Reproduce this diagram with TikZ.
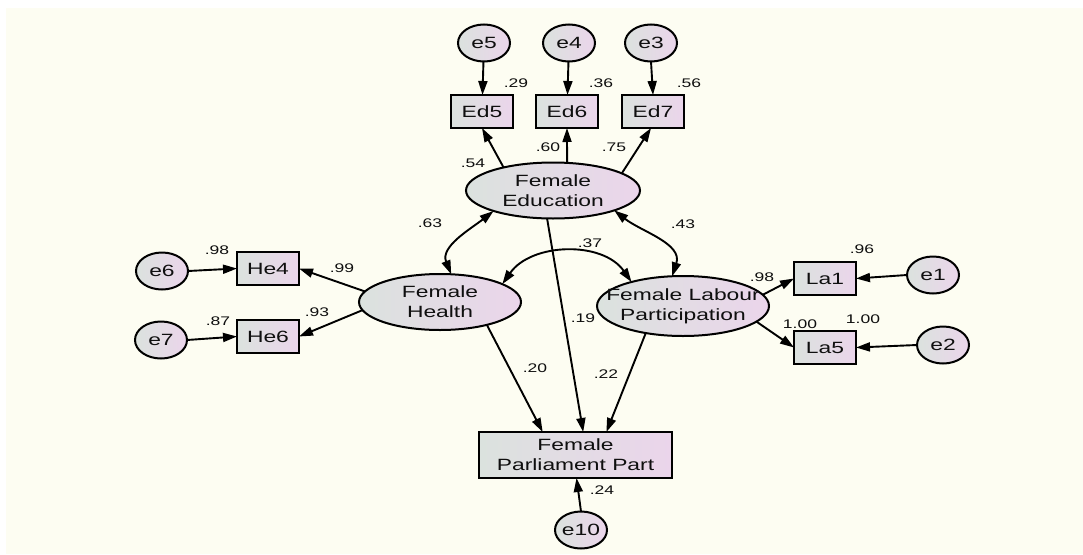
\documentclass[tikz,border=0pt]{standalone}
\usepackage{fontspec}
\setmainfont{Liberation Sans}[FakeStretch=1.4]
\usetikzlibrary{shapes.geometric,arrows.meta,calc}
\definecolor{bgcream}{RGB}{253,253,242}
\definecolor{fillL}{RGB}{219,226,222}
\definecolor{fillR}{RGB}{235,213,235}
\definecolor{inkc}{RGB}{15,15,15}
\tikzset{
  latent/.style={ellipse, draw=black, line width=2pt, left color=fillL, right color=fillR, inner sep=0pt, outer sep=0pt},
  errv/.style={latent, minimum width=52pt, minimum height=37pt},
  obsv/.style={rectangle, draw=black, line width=2pt, left color=fillL, right color=fillR, inner sep=0pt, outer sep=0pt, minimum width=62pt, minimum height=33pt},
  ntext/.style={inner sep=0pt, align=center, text=inkc, font=\fontsize{16.3}{20}\selectfont},
  lab/.style={inner sep=0pt, text=inkc, font=\fontsize{12.5}{14}\selectfont},
  arr/.style={line width=1.9pt, -{Triangle[length=14pt,width=9pt]}},
  cov/.style={line width=1.9pt, {Triangle[length=14pt,width=9pt]}-{Triangle[length=14pt,width=9pt]}}
}
\begin{document}
\begin{tikzpicture}[x=1pt,y=-1pt]
\useasboundingbox (0,0) rectangle (1083,554);
\fill[white] (0,0) rectangle (1083,554);
\fill[bgcream] (6,8) rectangle (1083,554);

% error variables
\node[errv] (e5) at (484,43) {};
\node[ntext] (e5t) at (e5) {e5};
\node[errv] (e4) at (569,43) {};
\node[ntext] (e4t) at (e4) {e4};
\node[errv] (e3) at (651,43) {};
\node[ntext] (e3t) at (e3) {e3};
\node[errv] (e6) at (162,271) {};
\node[ntext] (e6t) at (e6) {e6};
\node[errv] (e7) at (161,340) {};
\node[ntext] (e7t) at (e7) {e7};
\node[errv] (e1) at (933,275) {};
\node[ntext] (e1t) at (e1) {e1};
\node[errv] (e2) at (943,345) {};
\node[ntext] (e2t) at (e2) {e2};
\node[errv] (e10) at (581,530) {};
\node[ntext] (e10t) at (e10) {e10};

% observed
\node[obsv] (Ed5) at (482,111.5) {};
\node[ntext] (Ed5t) at (Ed5) {Ed5};
\node[obsv] (Ed6) at (567,111.5) {};
\node[ntext] (Ed6t) at (Ed6) {Ed6};
\node[obsv] (Ed7) at (653,111.5) {};
\node[ntext] (Ed7t) at (Ed7) {Ed7};
\node[obsv] (He4) at (268,268.5) {};
\node[ntext] (He4t) at (He4) {He4};
\node[obsv] (He6) at (268,336.5) {};
\node[ntext] (He6t) at (He6) {He6};
\node[obsv] (La1) at (825,278.5) {};
\node[ntext] (La1t) at (La1) {La1};
\node[obsv] (La5) at (825,347.5) {};
\node[ntext] (La5t) at (La5) {La5};
\node[obsv, minimum width=193pt, minimum height=46pt] (FPP) at (575.5,455) {};
\node[ntext] (FPPt) at (FPP) {Female\\Parliament Part};

% latent
\node[latent, minimum width=174pt, minimum height=56pt] (FE) at (553,190.5) {};
\node[ntext] (FEt) at (FE) {Female\\Education};
\node[latent, minimum width=162pt, minimum height=56pt] (FH) at (440,302) {};
\node[ntext] (FHt) at (FH) {Female\\Health};
\node[latent, minimum width=172pt, minimum height=60pt] (FLP) at (683,306) {};
\node[ntext] (FLPt) at (FLP) {Female Labour\\Participation};

% error arrows
\draw[arr] (e5) -- (Ed5);
\draw[arr] (e4) -- (Ed6);
\draw[arr] (e3.south) -- (Ed7.north);
\draw[arr] (e6.east) -- (He4.west);
\draw[arr] (e7.east) -- (He6.west);
\draw[arr] (e1.west) -- (La1.east);
\draw[arr] (e2.west) -- (La5.east);
\draw[arr] (e10.north) -- ([xshift=1pt]FPP.south);

% loadings
\draw[arr] (FE.155) -- (Ed5.south);
\draw[arr] (FE.63) -- (Ed6.south);
\draw[arr] (FE.14) -- ([xshift=-2pt]Ed7.south);
\draw[arr] (FH.172) -- (He4.east);
\draw[arr] (FH.186) -- (He6.east);
\draw[arr] (FLP.8) -- (La1.west);
\draw[arr] (FLP.348) -- (La5.west);

% structural
\draw[arr] (FE.258) -- ($(FPP.north west)!0.54!(FPP.north east)$);
\draw[arr] (FH.334) -- ($(FPP.north west)!0.33!(FPP.north east)$);
\draw[arr] (FLP.216) -- ($(FPP.north west)!0.66!(FPP.north east)$);

% covariances
\draw[cov] (FE.199) to[out=218, in=112] (FH.68);
\draw[cov] (FE.342) to[out=-38, in=72] (FLP.110);
\draw[cov] (FH.16) to[out=55, in=125] (FLP.155);

% labels
\node[lab] (l1) at (516,83) {.29};
\node[lab] (l2) at (601,83) {.36};
\node[lab] (l3) at (689,83) {.56};
\node[lab] (l4) at (473,163) {.54};
\node[lab] (l5) at (548,147) {.60};
\node[lab] (l6) at (614,147) {.75};
\node[lab] (l7) at (430,223) {.63};
\node[lab] (l8) at (683,224) {.43};
\node[lab] (l9) at (590,243) {.37};
\node[lab] (l10) at (217,250) {.98};
\node[lab] (l11) at (342,268) {.99};
\node[lab] (l12) at (317,312) {.93};
\node[lab] (l13) at (218,321) {.87};
\node[lab] (l14) at (862,249) {.96};
\node[lab] (l15) at (762,277) {.98};
\node[lab] (l16) at (800,324) {1.00};
\node[lab] (l17) at (863,319) {1.00};
\node[lab] (l18) at (583,318) {.19};
\node[lab] (l19) at (535,368) {.20};
\node[lab] (l20) at (606,374) {.22};
\node[lab] (l21) at (602,490) {.24};
\end{tikzpicture}
\end{document}
